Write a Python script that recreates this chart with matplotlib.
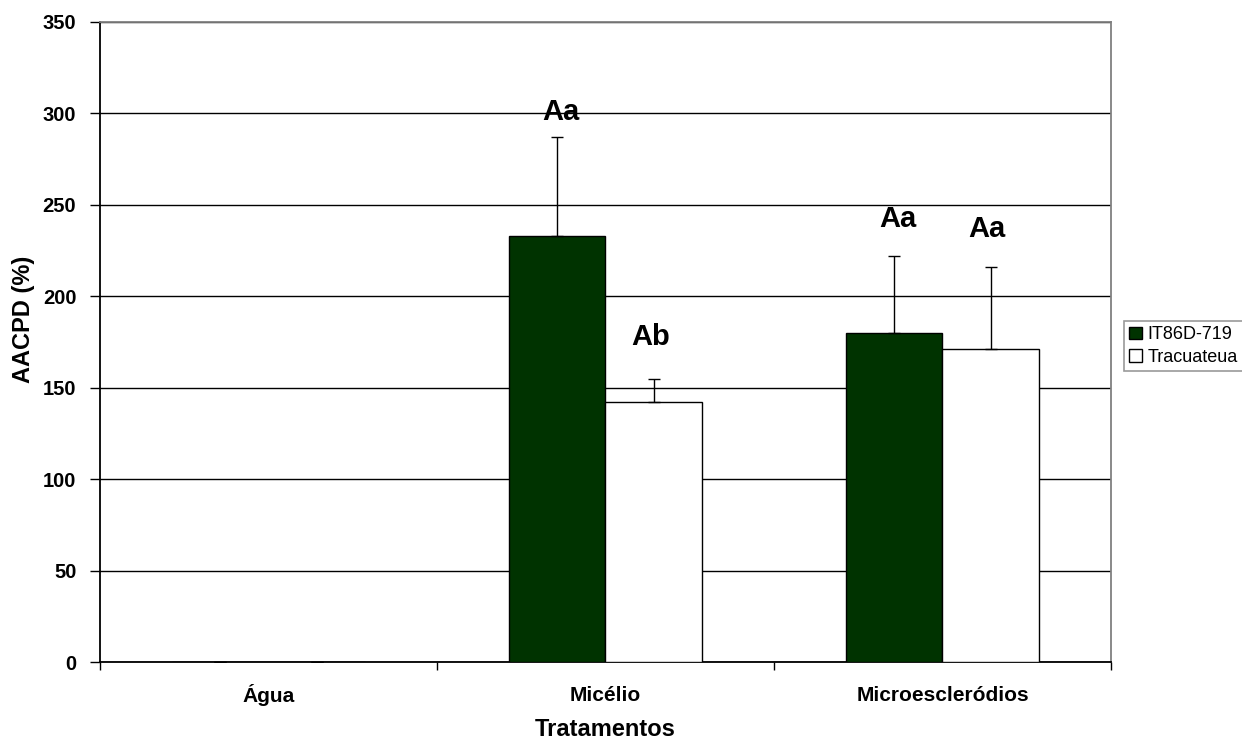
import matplotlib.pyplot as plt
import numpy as np

plt.rcParams["font.family"] = ["Liberation Sans", "DejaVu Sans"]

tratamentos = ["Água", "Micélio", "Microescleródios"]
cultivares = ["IT86D-719", "Tracuateua"]
aacpd_it86d = [0, 233, 180]
erro_it86d = [0, 54, 42]
aacpd_tracuateua = [0, 142, 171]
erro_tracuateua = [0, 13, 45]
letras_it86d = ["", "Aa", "Aa"]
letras_tracuateua = ["", "Ab", "Aa"]
yticks = np.arange(0, 351, 50)

# label heights (data units) for the significance letters
pos_it86d = [0, 301, 242]
pos_tracuateua = [0, 178, 237]

fig = plt.figure(figsize=(12.42, 7.42), dpi=100)
ax = fig.add_axes([0.0805, 0.1078, 0.814, 0.8626])

x = np.arange(len(tratamentos))
w = 1 / 3.5
x1 = x - w / 2
x2 = x + w / 2

ax.bar(x1, aacpd_it86d, w, color="#003300", edgecolor="black", linewidth=1,
       label=cultivares[0], zorder=3)
ax.bar(x2, aacpd_tracuateua, w, color="white", edgecolor="black", linewidth=1,
       label=cultivares[1], zorder=3)

ax.errorbar(x1, aacpd_it86d, yerr=[np.zeros(3), erro_it86d], fmt="none",
            ecolor="black", elinewidth=1, capsize=4, capthick=1, zorder=4)
ax.errorbar(x2, aacpd_tracuateua, yerr=[np.zeros(3), erro_tracuateua], fmt="none",
            ecolor="black", elinewidth=1, capsize=4, capthick=1, zorder=4)

for xi, yi, s in zip(x1, pos_it86d, letras_it86d):
    if s:
        ax.text(xi + 0.01, yi, s, ha="center", va="center", fontsize=21,
                fontweight="bold", zorder=5)
for xi, yi, s in zip(x2, pos_tracuateua, letras_tracuateua):
    if s:
        ax.text(xi - 0.01, yi, s, ha="center", va="center", fontsize=21,
                fontweight="bold", zorder=5)

ax.set_xlim(-0.5, 2.5)
ax.set_ylim(0, 350)
ax.set_yticks(yticks)
ax.yaxis.grid(True, color="black", linewidth=1, zorder=0)
ax.set_axisbelow(True)

ax.set_xticks(x)
ax.set_xticklabels(tratamentos, fontsize=15, fontweight="bold", va="center")
ax.tick_params(axis="x", which="major", length=0, pad=24)
ax.set_xticks([-0.5, 0.5, 1.5, 2.5], minor=True)
ax.tick_params(axis="x", which="minor", length=6, width=1, direction="out")
ax.tick_params(axis="y", length=7, width=1, direction="out", pad=10)
for lab in ax.get_yticklabels():
    lab.set_fontsize(14.5)
    lab.set_fontweight("bold")

for side in ["left", "bottom"]:
    ax.spines[side].set_color("black")
    ax.spines[side].set_linewidth(1.3)
for side in ["top", "right"]:
    ax.spines[side].set_color("#808080")
    ax.spines[side].set_linewidth(1.3)

ax.set_xlabel("Tratamentos", fontsize=17, fontweight="bold", va="center")
ax.xaxis.set_label_coords(0.5, -0.1055)
ax.set_ylabel("AACPD (%)", fontsize=17, fontweight="bold")
ax.yaxis.set_label_coords(-0.064, 0.536)

leg = fig.legend(loc="center left", bbox_to_anchor=(1124 / 1242, 1 - 346 / 742),
                 fontsize=13, frameon=True, fancybox=False, borderpad=0.3,
                 handlelength=0.7, handleheight=0.7, handletextpad=0.3,
                 labelspacing=0.3, borderaxespad=0)
leg.get_frame().set_edgecolor("#808080")
leg.get_frame().set_linewidth(1.2)

fig.savefig("out.png", dpi=100)
